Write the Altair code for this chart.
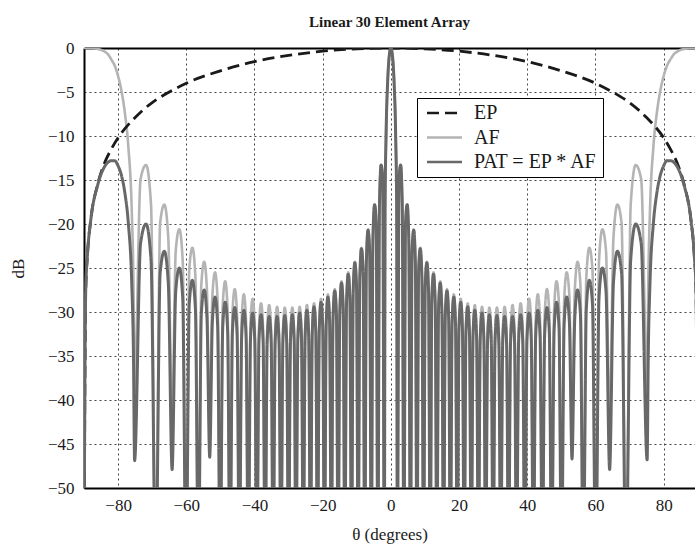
import altair as alt
import pandas as pd

FONT = "Liberation Serif"
title_text = "Linear 30 Element Array"
series_names = ["EP", "AF", "PAT = EP * AF"]
series_colors = ["#1a1a1a", "#b4b4b4", "#686868"]
series_dashes = [[12, 6], [1, 0], [1, 0]]
x_ticks = [-80, -60, -40, -20, 0, 20, 40, 60, 80]
y_ticks = [0, -5, -10, -15, -20, -25, -30, -35, -40, -45, -50]

# ---- element pattern (dashed) ----
ep_theta = [-90, -89.5, -89, -88, -86, -84, -82, -80, -75, -70, -65, -60, -50, -40, -30, -20, -10,
            0,
            10, 20, 30, 40, 50, 60, 65, 70, 75, 80, 82, 84, 86, 88, 89, 89.5, 90]
ep_db = [-60, -27.6, -23.6, -19.5, -15.5, -13.1, -11.5, -10.2, -7.9, -6.2, -5.0, -4.0, -2.6, -1.55, -0.84, -0.36, -0.09,
         0,
         -0.09, -0.36, -0.84, -1.55, -2.6, -4.0, -5.0, -6.2, -7.9, -10.2, -11.5, -13.1, -15.5, -19.5, -23.6, -27.6, -60]

# ---- main beam (AF and PAT coincide) ----
main_theta = [-1.7, -1.4, -0.95, -0.5, 0, 0.5, 0.95, 1.4, 1.7]
main_db = [-18.3, -9.8, -3.9, -1.0, 0, -1.0, -3.9, -9.8, -18.3]

# ---- nulls (right side / left side) ----
null_theta_r = [1.91, 3.82, 5.74, 7.66, 9.59, 11.54, 13.49, 15.47, 17.46, 19.47,
                21.51, 23.58, 25.68, 27.82, 30.00, 32.23, 34.52, 36.87, 39.29, 41.81,
                44.43, 47.17, 50.05, 53.13, 56.44, 60.07, 64.16, 68.96, 75.16]
null_af_r = [-60, -60, -60, -60, -60, -60, -60, -60, -60, -60,
             -60, -60, -60, -60, -60, -60, -60, -60, -60, -60,
             -60, -60, -60, -43.6, -60, -60, -42.8, -60, -38.8]
null_pat_r = [-60, -60, -60, -60, -60, -60, -60, -60, -60, -60,
              -60, -60, -60, -60, -60, -60, -60, -60, -60, -60,
              -60, -60, -60, -46.7, -60, -60, -47.9, -60, -46.8]
null_theta_l = [-1.91, -3.82, -5.74, -7.66, -9.59, -11.54, -13.49, -15.47, -17.46, -19.47,
                -21.51, -23.58, -25.68, -27.82, -30.00, -32.23, -34.52, -36.87, -39.29, -41.81,
                -44.43, -47.17, -50.05, -53.13, -56.44, -60.07, -64.16, -68.96, -75.16]
null_af_l = [-60, -60, -60, -60, -60, -60, -60, -60, -60, -60,
             -60, -60, -60, -60, -60, -60, -60, -60, -60, -60,
             -60, -60, -60, -43.4, -60, -60, -42.8, -60, -38.9]
null_pat_l = [-60, -60, -60, -60, -60, -60, -60, -60, -60, -60,
              -60, -60, -60, -60, -60, -60, -60, -60, -60, -60,
              -60, -60, -60, -46.5, -60, -60, -47.9, -60, -46.9]

# ---- sidelobes: inner shoulder, peak, outer shoulder ----
lobe_theta_r = [2.39, 2.87, 3.34, 4.30, 4.78, 5.26, 6.22, 6.70, 7.18, 8.14, 8.63, 9.11,
                10.08, 10.56, 11.05, 12.02, 12.51, 13.00, 13.99, 14.48, 14.97, 15.96, 16.46, 16.96,
                17.96, 18.46, 18.97, 19.98, 20.49, 21.00, 22.02, 22.54, 23.06, 24.10, 24.62, 25.15,
                26.21, 26.74, 27.28, 28.36, 28.90, 29.45, 30.55, 31.11, 31.67, 32.80, 33.37, 33.94,
                35.10, 35.69, 36.28, 37.47, 38.07, 38.68, 39.92, 40.54, 41.17, 42.46, 43.11, 43.76,
                45.10, 45.78, 46.47, 47.88, 48.59, 49.32, 50.81, 51.57, 52.35, 53.94, 54.75, 55.59,
                57.32, 58.21, 59.13, 61.05, 62.04, 63.09, 65.28, 66.44, 67.67, 70.34, 71.81, 73.41]
lobe_theta_l = [-2.39, -2.87, -3.34, -4.30, -4.78, -5.26, -6.22, -6.70, -7.18, -8.14, -8.63, -9.11,
                -10.08, -10.56, -11.05, -12.02, -12.51, -13.00, -13.99, -14.48, -14.97, -15.96, -16.46, -16.96,
                -17.96, -18.46, -18.97, -19.98, -20.49, -21.00, -22.02, -22.54, -23.06, -24.10, -24.62, -25.15,
                -26.21, -26.74, -27.28, -28.36, -28.90, -29.45, -30.55, -31.11, -31.67, -32.80, -33.37, -33.94,
                -35.10, -35.69, -36.28, -37.47, -38.07, -38.68, -39.92, -40.54, -41.17, -42.46, -43.11, -43.76,
                -45.10, -45.78, -46.47, -47.88, -48.59, -49.32, -50.81, -51.57, -52.35, -53.94, -54.75, -55.59,
                -57.32, -58.21, -59.13, -61.05, -62.04, -63.09, -65.28, -66.44, -67.67, -70.34, -71.81, -73.41]
lobe_af = [-14.9, -13.3, -17.8, -19.9, -17.8, -21.6, -23.0, -20.6, -24.2, -25.2, -22.7, -26.1,
           -26.9, -24.3, -27.6, -28.2, -25.5, -28.8, -29.3, -26.5, -29.8, -30.2, -27.4, -30.5,
           -30.9, -28.0, -31.2, -31.4, -28.5, -31.7, -31.9, -29.0, -32.0, -32.2, -29.2, -32.3,
           -32.4, -29.4, -32.5, -32.5, -29.5, -32.6, -32.6, -29.5, -32.5, -32.5, -29.4, -32.4,
           -32.3, -29.2, -32.2, -32.0, -29.0, -31.9, -31.7, -28.5, -31.4, -31.2, -28.0, -30.9,
           -30.5, -27.4, -30.2, -29.8, -26.5, -29.3, -28.8, -25.5, -28.2, -27.6, -24.3, -26.9,
           -26.1, -22.7, -25.2, -24.2, -20.6, -23.0, -21.6, -17.8, -19.9, -17.8, -13.3, -14.9]
lobe_pat = [-14.9, -13.3, -17.8, -19.9, -17.8, -21.7, -23.1, -20.7, -24.3, -25.3, -22.8, -26.2,
            -27.0, -24.4, -27.7, -28.4, -25.7, -29.0, -29.5, -26.7, -30.0, -30.4, -27.6, -30.8,
            -31.2, -28.3, -31.5, -31.8, -28.9, -32.1, -32.3, -29.4, -32.5, -32.7, -29.8, -32.9,
            -33.0, -30.1, -33.2, -33.3, -30.3, -33.4, -33.4, -30.4, -33.5, -33.5, -30.5, -33.5,
            -33.5, -30.5, -33.4, -33.4, -30.3, -33.3, -33.2, -30.1, -33.1, -32.9, -29.8, -32.8,
            -32.6, -29.5, -32.3, -32.1, -28.9, -31.8, -31.5, -28.3, -31.1, -30.7, -27.5, -30.2,
            -29.7, -26.4, -29.1, -28.4, -25.0, -27.6, -26.7, -23.1, -25.6, -24.1, -20.0, -22.2]

# ---- grating-lobe region near endfire ----
edge_theta_r = [75.5, 76, 77, 78, 79, 80, 81, 82, 83, 84, 86, 88, 89, 89.5, 90]
edge_theta_l = [-75.5, -76, -77, -78, -79, -80, -81, -82, -83, -84, -86, -88, -89, -89.5, -90]
edge_af = [-26.6, -18.4, -11.2, -7.4, -4.9, -3.2, -2.0, -1.3, -0.7, -0.4, -0.1, 0, 0, 0, 0]
edge_pat = [-34.7, -26.7, -19.9, -16.5, -14.5, -13.4, -12.8, -12.8, -13.0, -13.5, -15.6, -19.5, -23.6, -27.6, -60]


def rows(name, thetas, dbs):
    return [{"theta": t, "db": d, "series": name} for t, d in zip(thetas, dbs)]


af_rows = (rows("AF", main_theta, main_db) + rows("AF", null_theta_r, null_af_r) + rows("AF", null_theta_l, null_af_l)
           + rows("AF", lobe_theta_r, lobe_af) + rows("AF", lobe_theta_l, lobe_af)
           + rows("AF", edge_theta_r, edge_af) + rows("AF", edge_theta_l, edge_af))
pat_name = "PAT = EP * AF"
pat_rows = (rows(pat_name, main_theta, main_db) + rows(pat_name, null_theta_r, null_pat_r)
            + rows(pat_name, null_theta_l, null_pat_l)
            + rows(pat_name, lobe_theta_r, lobe_pat) + rows(pat_name, lobe_theta_l, lobe_pat)
            + rows(pat_name, edge_theta_r, edge_pat) + rows(pat_name, edge_theta_l, edge_pat))

df_af = pd.DataFrame(af_rows).sort_values("theta")
df_pat = pd.DataFrame(pat_rows).sort_values("theta")
df_ep = pd.DataFrame(rows("EP", ep_theta, ep_db)).sort_values("theta")

x_scale = alt.Scale(domain=[-90, 89.2], nice=False, zero=False)
y_scale = alt.Scale(domain=[-50, 0], nice=False, zero=False)

x_bottom = alt.X("theta:Q", scale=x_scale,
                 axis=alt.Axis(values=x_ticks, title="θ (degrees)", grid=True, labelPadding=9,
                               titleX=305.5, titleY=46, titleBaseline="middle"))
x_top = alt.X("theta:Q", scale=x_scale,
              axis=alt.Axis(orient="top", labels=False, grid=False, title=None, domain=True))
x_none = alt.X("theta:Q", scale=x_scale, axis=None)
y_enc = alt.Y("db:Q", scale=y_scale,
              axis=alt.Axis(values=y_ticks, title="dB", grid=True, labelPadding=10,
                            titleX=-66, titleY=220, titleBaseline="middle", titleAngle=-90))

legend = alt.Legend(title=None, orient="none", legendX=333, legendY=50, direction="vertical",
                    symbolType="M-0.625,0H3.75", symbolSize=256, symbolStrokeWidth=2.6,
                    labelFont=FONT, labelFontSize=20, labelColor="#1a1a1a", labelOffset=32,
                    padding=5, strokeColor="black", fillColor="white", rowPadding=4.5, cornerRadius=0)
color_enc = alt.Color("series:N", scale=alt.Scale(domain=series_names, range=series_colors), legend=legend)
dash_enc = alt.StrokeDash("series:N", scale=alt.Scale(domain=series_names, range=series_dashes), legend=legend)

af_layer = alt.Chart(df_af).mark_line(clip=True, interpolate="monotone", strokeWidth=2.6).encode(
    x=x_bottom, y=y_enc, color=color_enc, strokeDash=dash_enc)
ep_layer = alt.Chart(df_ep).mark_line(clip=True, interpolate="monotone", strokeWidth=2.8).encode(
    x=x_none, y=y_enc, color=color_enc, strokeDash=dash_enc)
pat_layer = alt.Chart(df_pat).mark_line(clip=True, interpolate="monotone", strokeWidth=3).encode(
    x=x_top, y=y_enc, color=color_enc, strokeDash=dash_enc)

chart = alt.layer(af_layer, ep_layer, pat_layer).resolve_axis(x="independent").properties(
    width=611, height=440,
    padding={"left": 84, "top": 48, "right": 0, "bottom": 61},
    autosize=alt.AutoSizeParams(type="none"),
    title=alt.TitleParams(text=title_text, font=FONT, fontSize=15, fontWeight="bold", color="#1a1a1a",
                          anchor="middle", offset=9),
).configure_axis(
    labelFont=FONT, titleFont=FONT, labelFontSize=17, titleFontSize=17, titleFontWeight="normal",
    labelColor="#1a1a1a", titleColor="#1a1a1a", domainColor="black", domainWidth=2,
    gridColor="#444444", gridDash=[2, 3], gridWidth=1, gridOpacity=1, ticks=False, tickSize=0,
).configure_view(stroke=None)

chart.save("out.html", embed_options={"renderer": "svg", "actions": False})
